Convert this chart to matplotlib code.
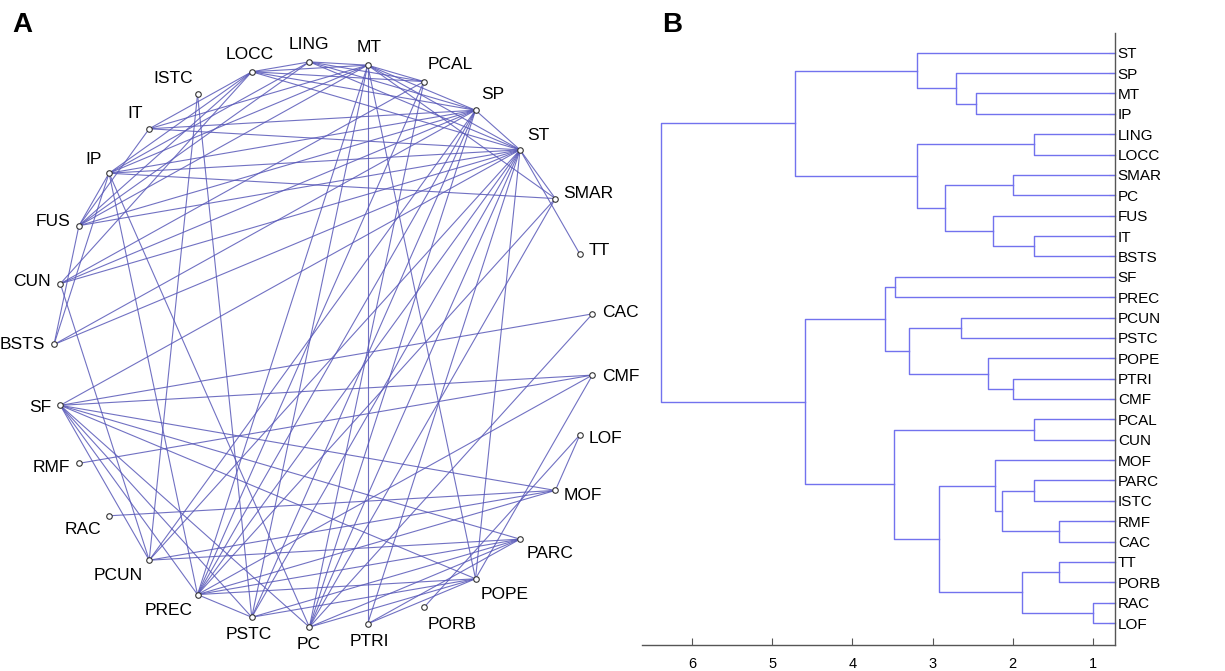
import numpy as np
import matplotlib.pyplot as plt

plt.rcParams['font.family'] = ['Liberation Sans', 'DejaVu Sans']

# --- panel A: regions placed on a circle, counter-clockwise from the top ---
regions = ["LING", "LOCC", "ISTC", "IT", "IP", "FUS", "CUN", "BSTS", "SF", "RMF",
           "RAC", "PCUN", "PREC", "PSTC", "PC", "PTRI", "PORB", "POPE", "PARC", "MOF",
           "LOF", "CMF", "CAC", "TT", "SMAR", "ST", "SP", "PCAL", "MT"]

edges = [
    ("ST", "LOCC"), ("ST", "LING"), ("ST", "MT"), ("ST", "SP"), ("ST", "SMAR"), ("ST", "TT"),
    ("ST", "IP"), ("ST", "IT"), ("ST", "FUS"), ("ST", "CUN"), ("ST", "BSTS"), ("ST", "SF"),
    ("ST", "PCUN"), ("ST", "PREC"), ("ST", "PSTC"), ("ST", "PC"), ("ST", "PTRI"), ("ST", "POPE"),
    ("SP", "MT"), ("SP", "LOCC"), ("SP", "LING"), ("SP", "IT"), ("SP", "IP"), ("SP", "FUS"),
    ("SP", "CUN"), ("SP", "BSTS"), ("SP", "PCUN"), ("SP", "PREC"), ("SP", "PC"), ("SP", "PSTC"),
    ("MT", "LOCC"), ("MT", "LING"), ("MT", "IT"), ("MT", "IP"), ("MT", "FUS"), ("MT", "SMAR"),
    ("MT", "PCAL"), ("MT", "PTRI"), ("MT", "POPE"), ("MT", "PREC"), ("MT", "PSTC"),
    ("PCAL", "LOCC"), ("PCAL", "LING"), ("PCAL", "CUN"), ("PCAL", "PREC"), ("PCAL", "PC"),
    ("LING", "LOCC"), ("LING", "FUS"), ("LING", "IP"),
    ("LOCC", "IT"), ("LOCC", "IP"), ("LOCC", "FUS"), ("LOCC", "CUN"),
    ("ISTC", "PCUN"), ("ISTC", "PSTC"),
    ("IT", "FUS"),
    ("IP", "FUS"), ("IP", "SMAR"), ("IP", "PREC"), ("IP", "PC"), ("IP", "BSTS"),
    ("FUS", "BSTS"),
    ("SF", "CAC"), ("SF", "CMF"), ("SF", "MOF"), ("SF", "PARC"), ("SF", "POPE"), ("SF", "PC"),
    ("SF", "PSTC"), ("SF", "PREC"), ("SF", "PCUN"),
    ("RMF", "CMF"), ("RAC", "MOF"),
    ("PCUN", "PARC"), ("PCUN", "MOF"), ("PCUN", "CUN"),
    ("PREC", "PSTC"), ("PREC", "POPE"), ("PREC", "PARC"), ("PREC", "MOF"), ("PREC", "CMF"),
    ("PREC", "SMAR"),
    ("PSTC", "PARC"), ("PSTC", "POPE"),
    ("PC", "POPE"), ("PC", "PARC"), ("PC", "CAC"), ("PC", "SMAR"),
    ("PTRI", "POPE"), ("PTRI", "PARC"),
    ("POPE", "CMF"),
    ("LOF", "MOF"), ("LOF", "PORB"),
]

# --- panel B: dendrogram ---
leaf_order = ["ST", "SP", "MT", "IP", "LING", "LOCC", "SMAR", "PC", "FUS", "IT", "BSTS",
              "SF", "PREC", "PCUN", "PSTC", "POPE", "PTRI", "CMF", "PCAL", "CUN", "MOF",
              "PARC", "ISTC", "RMF", "CAC", "TT", "PORB", "RAC", "LOF"]
# merges: "#k" refers to the cluster built in step k
link_a = ["MT", "SP", "ST", "LING", "SMAR", "IT", "FUS", "#4", "#3", "#2",
          "SF", "PCUN", "PTRI", "POPE", "#11", "#10", "PCAL", "PARC", "RMF", "#17",
          "MOF", "TT", "RAC", "#21", "#20", "#16", "#15", "#9"]
link_b = ["IP", "#0", "#1", "LOCC", "PC", "BSTS", "#5", "#6", "#7", "#8",
          "PREC", "PSTC", "CMF", "#12", "#13", "#14", "CUN", "ISTC", "CAC", "#18",
          "#19", "PORB", "LOF", "#22", "#23", "#24", "#25", "#26"]
link_h = [2.46, 2.71, 3.19, 1.73, 2.00, 1.73, 2.24, 2.84, 3.19, 4.72,
          3.47, 2.65, 2.00, 2.31, 3.30, 3.59, 1.73, 1.73, 1.42, 2.13,
          2.22, 1.42, 1.00, 1.88, 2.92, 3.48, 4.59, 6.39]
x_ticks = [1, 2, 3, 4, 5, 6]

W, H = 1225, 671
fig = plt.figure(figsize=(W / 100, H / 100), dpi=100)

# ---------------- A ----------------
axA = fig.add_axes([0, 1 / H, 648 / W, 651 / H])
axA.set_xlim(-1.2, 1.2)
axA.set_ylim(-1.15, 1.15)
axA.axis('off')

step = 360 / len(regions)
ang = np.deg2rad(90 + step / 4 + step * np.arange(len(regions)))
px = dict(zip(regions, np.cos(ang)))
py = dict(zip(regions, np.sin(ang)))

for a, b in edges:
    axA.plot([px[a], px[b]], [py[a], py[b]], color='#5858b8', lw=0.8, alpha=0.85,
             zorder=1)
axA.plot([px[r] for r in regions], [py[r] for r in regions], 'o', ms=4,
         mfc='white', mec='#333333', mew=0.8, ls='none', zorder=3)

for r, t in zip(regions, ang):
    c, s = np.cos(t), np.sin(t)
    ha = 'left' if c > 0.3 else ('right' if c < -0.3 else 'center')
    va = 'bottom' if s > 0.6 else ('top' if s < -0.6 else 'center')
    axA.text(px[r] + 0.035 * c, py[r] + 0.035 * s, r, ha=ha, va=va,
             fontsize=12.5, color='black', clip_on=False)

# ---------------- B ----------------
axB = fig.add_axes([642 / W, 26 / H, 473 / W, 612 / H])
leaf_x = 0.72
dcol = '#7272ee'
ypos = {n: i for i, n in enumerate(leaf_order)}
xpos = {n: leaf_x for n in leaf_order}
for k, (a, b, h) in enumerate(zip(link_a, link_b, link_h)):
    ya, yb = ypos[a], ypos[b]
    axB.plot([xpos[a], h, h, xpos[b]], [ya, ya, yb, yb], color=dcol, lw=1,
             clip_on=False)
    ypos["#%d" % k] = (ya + yb) / 2
    xpos["#%d" % k] = h

axB.set_xlim(6.63, leaf_x)
axB.set_ylim(len(leaf_order) - 1 + 1.08, -0.97)
axB.spines['top'].set_visible(False)
axB.spines['left'].set_visible(False)
for sp in ('right', 'bottom'):
    axB.spines[sp].set_color('#555555')
    axB.spines[sp].set_linewidth(1)
axB.yaxis.tick_right()
axB.set_yticks(range(len(leaf_order)))
axB.set_yticklabels(leaf_order)
axB.tick_params(axis='y', direction='in', length=4, pad=2, labelsize=11,
                color='#555555')
axB.set_xticks(x_ticks)
axB.tick_params(axis='x', direction='in', length=5, pad=9, labelsize=10.5,
                color='#555555')

fig.text(12 / W, 1 - 32 / H, 'A', fontsize=20, fontweight='bold', va='baseline')
fig.text(662 / W, 1 - 32 / H, 'B', fontsize=20, fontweight='bold', va='baseline')

fig.savefig('out.png', dpi=100)
